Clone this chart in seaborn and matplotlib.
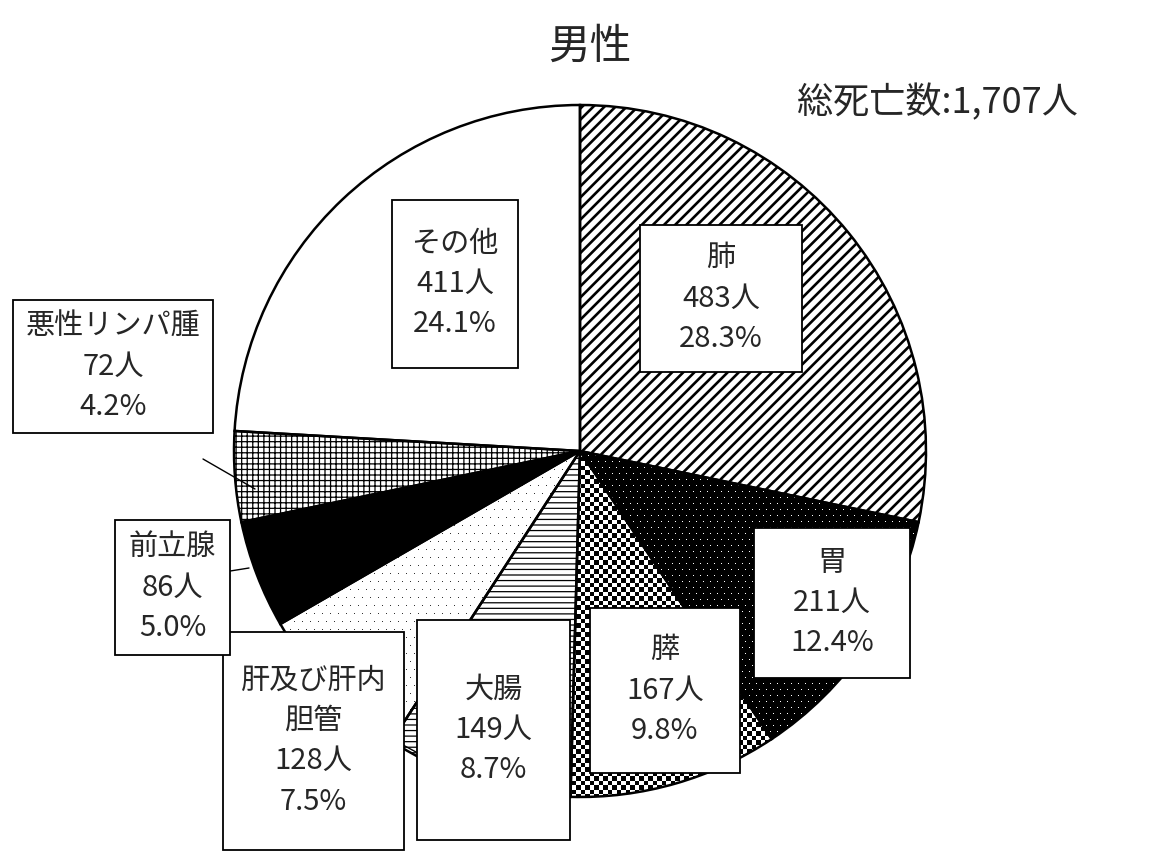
import numpy as np
import seaborn as sns
import matplotlib.pyplot as plt
from matplotlib.patches import Rectangle

sns.set_theme(style="white")
plt.rcParams["font.family"] = ["Noto Sans CJK JP", "DejaVu Sans"]
plt.rcParams["hatch.linewidth"] = 1.0

# data
sites = ["肺", "胃", "膵", "大腸", "肝及び肝内\n胆管", "前立腺", "悪性リンパ腫", "その他"]
deaths = [483, 211, 167, 149, 128, 86, 72, 411]
total = sum(deaths)

# styles per slice
faces = ["white", "black", "white", "white", "white", "black", "white", "white"]
hatches = ["///", None, None, "---", None, None, "+++", None]
hatch_lw = [1.9, 1.0, 1.0, 0.9, 1.0, 1.0, 0.9, 1.0]

# label boxes in pixels (left, top, right, bottom), origin top-left
boxes = [(640, 225, 802, 372), (754, 528, 910, 678), (590, 608, 740, 773),
         (417, 620, 570, 840), (223, 632, 404, 850), (115, 520, 230, 655),
         (13, 300, 213, 433), (392, 200, 518, 368)]

W, H = 1158, 859
cx, cy, r = 580, H - 451, 346

fig = plt.figure(figsize=(W / 100, H / 100), dpi=100)
ax = fig.add_axes([0, 0, 1, 1])

wedges, _ = ax.pie(deaths, startangle=90, counterclock=False, center=(cx, cy),
                   radius=r, colors=faces, wedgeprops=dict(linewidth=0))
for w, h, lw in zip(wedges, hatches, hatch_lw):
    if h:
        w.set_hatch(h)
        w.set_edgecolor("black")
        w.set_linewidth(0)
        if hasattr(w, "set_hatch_linewidth"):
            w.set_hatch_linewidth(lw)


def texture(wedge, arr, cmap):
    n = arr.shape[0]
    im = ax.imshow(arr, cmap=cmap, vmin=0, vmax=1, interpolation="nearest",
                   extent=(cx - r, cx - r + n, cy - r, cy - r + n), zorder=1.5)
    im.set_clip_path(wedge)


n = 2 * r + 4
yy, xx = np.indices((n, n))

# checkerboard for 膵 (cells of ~4.5 px)
checker = ((xx // 4.5 + yy // 4.5) % 2).astype(float)
texture(wedges[2], checker, "gray")

# white dots on black for 胃
row = yy // 6
dots_w = ((yy % 6 == 0) & ((xx + (row % 2) * 3) % 7 == 0)).astype(float)
texture(wedges[1], dots_w, "gray")

# black dots on white for 肝
row = yy // 8
dots_b = 1 - 0.8 * ((yy % 8 == 0) & ((xx + (row % 2) * 4) % 8 == 0)).astype(float)
texture(wedges[4], dots_b, "gray")

# outlines
outl, _ = ax.pie(deaths, startangle=90, counterclock=False, center=(cx, cy),
                 radius=r, wedgeprops=dict(fill=False, edgecolor="black", linewidth=1.8))
for w in outl:
    w.set_zorder(2)

# leader lines
ax.plot([203, 255], [H - 459, H - 489], color="black", lw=1, zorder=2.5)
ax.plot([224, 249], [H - 572, H - 568], color="black", lw=1, zorder=2.5)
ax.plot([403, 416], [H - 745, H - 752], color="black", lw=1, zorder=2.5)

for name, d, (x0, y0, x1, y1) in zip(sites, deaths, boxes):
    ax.add_patch(Rectangle((x0, H - y1), x1 - x0, y1 - y0, facecolor="white",
                           edgecolor="black", linewidth=1.3, zorder=3))
    label = f"{name}\n{d}人\n{d / total * 100:.1f}%"
    ax.text((x0 + x1) / 2, H - (y0 + y1) / 2, label, ha="center", va="center",
            fontsize=21, linespacing=1.45, zorder=4)

ax.text(590, H - 47, "男性", ha="center", va="center", fontsize=30)
ax.text(1078, H - 103, f"総死亡数:{total:,}人", ha="right", va="center", fontsize=26)

ax.set_xlim(0, W)
ax.set_ylim(0, H)
ax.set_aspect("equal")
ax.axis("off")

fig.savefig("out.png", dpi=100)
